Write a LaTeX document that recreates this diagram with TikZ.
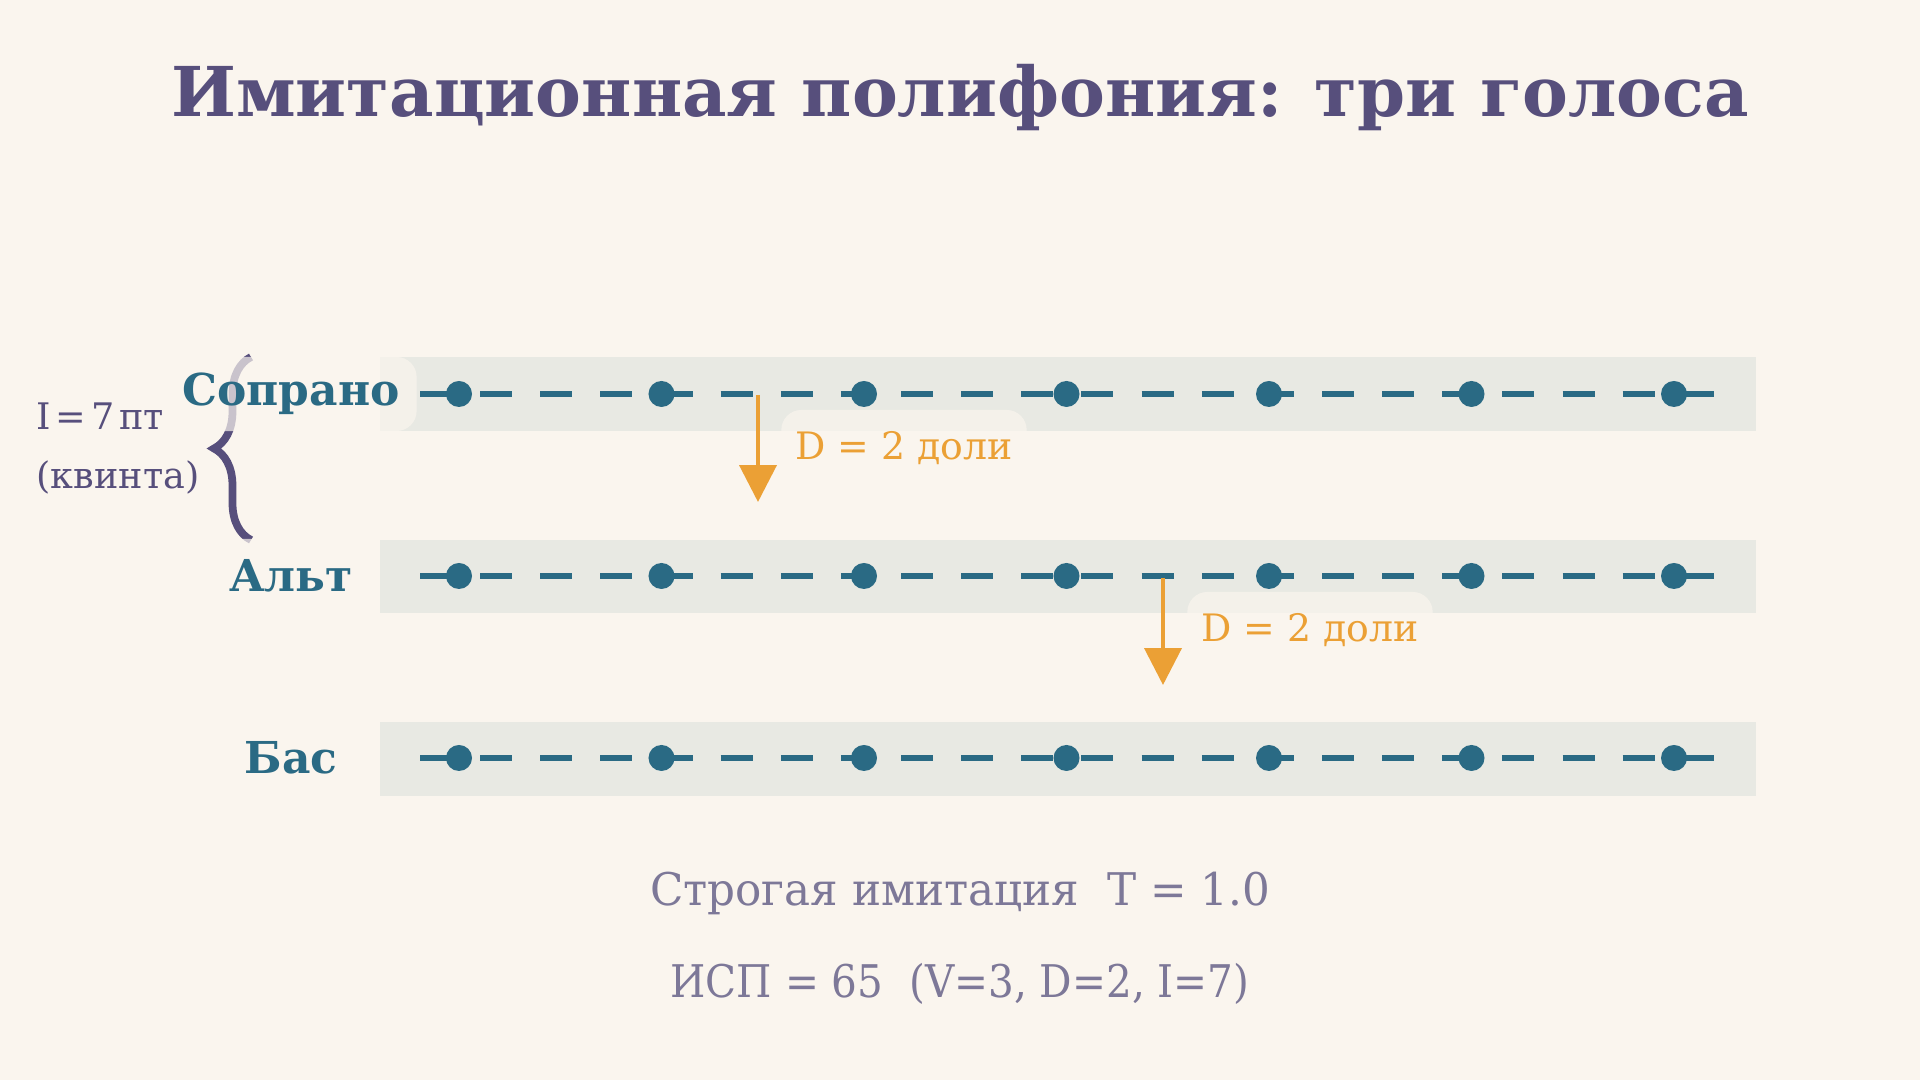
\documentclass[tikz,border=0pt]{standalone}
\usepackage{fontspec}
\setmainfont{DejaVu Serif}
\usetikzlibrary{arrows.meta,decorations.pathreplacing}

\definecolor{paper}{HTML}{FAF5EE}
\definecolor{ink}{HTML}{574F7C}
\definecolor{voicecol}{HTML}{2A6A84}
\definecolor{bandcol}{HTML}{E8E9E3}
\definecolor{delaycol}{HTML}{EBA035}
\definecolor{notecol}{HTML}{7D7898}

\tikzset{
  voice/.style={font=\bfseries\fontsize{12.5}{15}\selectfont, text=voicecol,
    fill=paper, fill opacity=0.7, text opacity=1, rounded corners=0.2cm,
    inner xsep=0.17cm, inner ysep=0pt, minimum height=0.74cm},
  delaylabel/.style={font=\fontsize{10.75}{13}\selectfont, text=delaycol,
    fill=paper, fill opacity=0.7, text opacity=1, rounded corners=0.2cm,
    inner xsep=0.14cm, inner ysep=0pt, minimum height=0.76cm},
  voiceline/.style={voicecol, line width=1.7pt, dash pattern=on 9.1pt off 8pt},
  dot/.style={circle, fill=voicecol, inner sep=0pt, minimum size=0.26cm},
  delay/.style={delaycol, line width=1.15pt, -{Triangle[width=10.5pt,length=10.5pt]}},
  note/.style={anchor=base, inner sep=0pt, text=notecol},
}

\begin{document}
\begin{tikzpicture}[x=0.01cm, y=-0.01cm]
\useasboundingbox[fill=paper] (0,0) rectangle (1920,1080);

\node[anchor=base, inner sep=0pt, text=ink, font=\bfseries\fontsize{19.55}{24}\selectfont]
    (title) at (960,117) {Имитационная полифония: три голоса};

% bands
\fill[bandcol] (380,357) rectangle (1756,431);
\fill[bandcol] (380,540) rectangle (1756,613);
\fill[bandcol] (380,722) rectangle (1756,796);

% interval brace
\draw[ink, line width=2.2pt, decorate, decoration={brace, amplitude=0.37cm}]
    (251,540) -- (251,357);
\node[anchor=base west, inner sep=0pt, text=ink, font=\fontsize{10.4}{13}\selectfont]
    (int1) at (36,430) {I\kern0.13em=\kern0.13em7\kern0.13emпт};
\node[anchor=base west, inner sep=0pt, text=ink, font=\fontsize{10.4}{13}\selectfont]
    (int2) at (36,489) {(квинта)};

% voices
\coordinate (sopL) at (420,394); \coordinate (sopR) at (1714,394);
\coordinate (altL) at (420,576); \coordinate (altR) at (1714,576);
\coordinate (basL) at (420,758); \coordinate (basR) at (1714,758);
\draw[voiceline] (sopL) -- (sopR);
\draw[voiceline] (altL) -- (altR);
\draw[voiceline] (basL) -- (basR);
\foreach \i in {0,...,6}{
  \node[dot] (sop\i) at (459+202.5*\i,394) {};
  \node[dot] (alt\i) at (459+202.5*\i,576) {};
  \node[dot] (bas\i) at (459+202.5*\i,758) {};
}

\node[voice] (sop) at (291,394) {Сопрано};
\node[voice] (alt) at (291,576) {Альт};
\node[voice] (bas) at (291,758) {Бас};

% delays
\coordinate (d1a) at (758,395); \coordinate (d1b) at (758,502);
\coordinate (d2a) at (1163,578); \coordinate (d2b) at (1163,685);
\draw[delay] (d1a) -- (d1b);
\draw[delay] (d2a) -- (d2b);
\node[delaylabel] (dl1) at (904,448) {D = 2 доли};
\node[delaylabel] (dl2) at (1310,630) {D = 2 доли};

% summary
\node[note, font=\fontsize{12.8}{15}\selectfont\addfontfeature{FakeStretch=0.97}]
    (mode) at (960,906) {Строгая имитация\ \ T = 1.0};
\node[note, font=\fontsize{12.8}{15}\selectfont\addfontfeature{FakeStretch=0.9}]
    (isp) at (960,998) {ИСП = 65\ \ (V=3, D=2, I=7)};

\end{tikzpicture}
\end{document}
